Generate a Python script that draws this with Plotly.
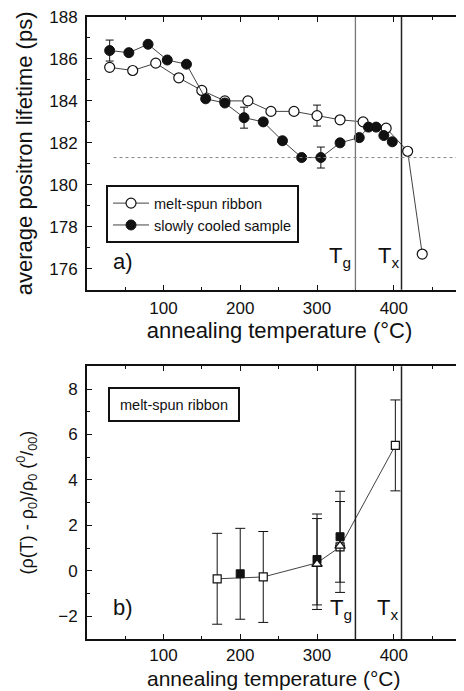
import plotly.graph_objects as go

# ---------------- data: panel a ----------------
T_ms = [30, 60, 90, 120, 150, 180, 210, 240, 270, 300, 330, 360, 390, 418, 437]
tau_ms = [185.6, 185.45, 185.8, 185.1, 184.5, 184.0, 184.0, 183.5, 183.5, 183.3, 183.1, 183.0, 182.7, 181.6, 176.7]
err_ms = [0, 0, 0, 0, 0, 0, 0, 0, 0, 0.5, 0, 0, 0, 0, 0]

T_sc = [30, 55, 80, 105, 130, 155, 180, 205, 230, 255, 280, 305, 330, 355, 367, 377, 387, 398]
tau_sc = [186.4, 186.3, 186.7, 185.95, 185.75, 184.1, 183.9, 183.2, 183.0, 182.1, 181.3, 181.3, 182.0, 182.25, 182.75, 182.75, 182.35, 182.05]
err_sc = [0.5, 0, 0, 0, 0, 0, 0, 0.5, 0, 0, 0, 0.5, 0, 0, 0, 0, 0, 0]

tau_ref = 181.3
Tg = 350
Tx = 410

# ---------------- data: panel b ----------------
T_line = [170, 230, 300, 330, 402]
rho_line = [-0.35, -0.27, 0.35, 1.05, 5.52]

T_open = [170, 230, 330, 402]
rho_open = [-0.35, -0.27, 1.05, 5.52]
err_open = [2, 2, 2, 2]

T_fill = [200, 300, 330]
rho_fill = [-0.13, 0.5, 1.5]
err_fill = [2, 2, 2]

T_tri = [300, 330]
rho_tri = [0.3, 1.1]
err_tri = [2, 0]

x_ticks = [100, 200, 300, 400]
x_title = "annealing temperature (°C)"

FONT = "Liberation Sans, Arial, Helvetica, sans-serif"
BLACK = "#111111"

fig = go.Figure()

# panel a traces
fig.add_trace(go.Scatter(
    x=T_ms, y=tau_ms, mode="lines+markers", name="melt-spun ribbon",
    line=dict(color=BLACK, width=0.8),
    marker=dict(symbol="circle", size=10, color="white", line=dict(color=BLACK, width=1.2)),
    error_y=dict(type="data", array=err_ms, color=BLACK, thickness=1, width=4, visible=True),
    xaxis="x", yaxis="y"))
fig.add_trace(go.Scatter(
    x=T_sc, y=tau_sc, mode="lines+markers", name="slowly cooled sample",
    line=dict(color=BLACK, width=0.8),
    marker=dict(symbol="circle", size=10, color=BLACK, line=dict(color=BLACK, width=1)),
    error_y=dict(type="data", array=err_sc, color=BLACK, thickness=1, width=4, visible=True),
    xaxis="x", yaxis="y"))

# panel b traces
fig.add_trace(go.Scatter(
    x=T_line, y=rho_line, mode="lines", showlegend=False,
    line=dict(color=BLACK, width=0.8), xaxis="x2", yaxis="y2", hoverinfo="skip"))
fig.add_trace(go.Scatter(
    x=T_open, y=rho_open, mode="markers", showlegend=False,
    marker=dict(symbol="square", size=8, color="white", line=dict(color=BLACK, width=1.2)),
    error_y=dict(type="data", array=err_open, color=BLACK, thickness=1, width=5),
    xaxis="x2", yaxis="y2"))
fig.add_trace(go.Scatter(
    x=T_fill, y=rho_fill, mode="markers", showlegend=False,
    marker=dict(symbol="square", size=8, color=BLACK, line=dict(color=BLACK, width=1)),
    error_y=dict(type="data", array=err_fill, color=BLACK, thickness=1, width=5),
    xaxis="x2", yaxis="y2"))
fig.add_trace(go.Scatter(
    x=T_tri, y=rho_tri, mode="markers", showlegend=False,
    marker=dict(symbol="triangle-up", size=9, color="white", line=dict(color=BLACK, width=1.3)),
    error_y=dict(type="data", array=err_tri, color=BLACK, thickness=1, width=5),
    xaxis="x2", yaxis="y2"))

# dummy traces for right-side tick axes
fig.add_trace(go.Scatter(x=[None], y=[None], xaxis="x", yaxis="y3", showlegend=False, hoverinfo="skip"))
fig.add_trace(go.Scatter(x=[None], y=[None], xaxis="x2", yaxis="y4", showlegend=False, hoverinfo="skip"))

# The page body adds an 8px margin; the plot is laid out so the visible
# region (cropped at the window edge) matches the reference.
XR = [0.5, 501.8]
top_dom = [0.5616, 1.0]
bot_dom = [0.0, 0.4384]
RIGHT_POS = 0.979

def xax(anchor, title, standoff):
    return dict(
        range=XR, domain=[0, 1], anchor=anchor,
        showline=True, linecolor=BLACK, linewidth=2, mirror="ticks",
        ticks="inside", ticklen=5, tickwidth=1.2, tickcolor=BLACK,
        tickvals=x_ticks, ticktext=[str(v) for v in x_ticks],
        minor=dict(dtick=50, tick0=0, ticks="inside", ticklen=3, tickwidth=1, tickcolor=BLACK),
        showgrid=False, zeroline=False,
        tickfont=dict(size=17, color=BLACK, family=FONT),
        ticklabelstandoff=standoff, ticklabeloverflow="allow",
        title=dict(text=title, font=dict(size=22, color=BLACK, family=FONT), standoff=3),
    )

def yright(over, rng, t0):
    return dict(
        overlaying=over, side="right", anchor="free", position=RIGHT_POS, range=rng,
        showline=False, ticks="inside", ticklen=4, tickwidth=1, tickcolor=BLACK,
        dtick=2, tick0=t0, showticklabels=False, showgrid=False, zeroline=False,
    )

fig.update_layout(
    width=464, height=691,
    margin=dict(l=79, r=0, t=6, b=60),
    paper_bgcolor="white", plot_bgcolor="white",
    font=dict(family=FONT, color=BLACK),
    xaxis=xax("y", x_title, 2),
    xaxis2=xax("y2", "", 0),
    yaxis=dict(
        domain=top_dom, anchor="x", range=[175, 188],
        showline=True, linecolor=BLACK, linewidth=2,
        ticks="inside", ticklen=5, tickwidth=1.2, tickcolor=BLACK,
        dtick=2, tick0=176,
        minor=dict(dtick=1, ticks="inside", ticklen=3, tickwidth=1, tickcolor=BLACK),
        showgrid=False, zeroline=False,
        tickfont=dict(size=17, color=BLACK, family=FONT), ticklabelstandoff=4,
        ticklabeloverflow="allow",
        title=dict(text="average positron lifetime (ps)", font=dict(size=22, color=BLACK, family=FONT), standoff=11),
    ),
    yaxis2=dict(
        domain=bot_dom, anchor="x2", range=[-3, 9],
        showline=True, linecolor=BLACK, linewidth=2,
        ticks="inside", ticklen=5, tickwidth=1.2, tickcolor=BLACK,
        dtick=2, tick0=0,
        minor=dict(dtick=1, ticks="inside", ticklen=3, tickwidth=1, tickcolor=BLACK),
        showgrid=False, zeroline=False,
        tickfont=dict(size=17, color=BLACK, family=FONT), ticklabelstandoff=4,
        ticklabeloverflow="allow",
        title=dict(text="(ρ(T) - ρ<sub>0</sub>)/ρ<sub>0</sub> (<sup>0</sup>/<sub>00</sub>)",
                   font=dict(size=18, color=BLACK, family=FONT), standoff=20),
    ),
    yaxis3=yright("y", [175, 188], 176),
    yaxis4=yright("y2", [-3, 9], 0),
    legend=dict(
        x=0.0494, y=0.7296, xanchor="left", yanchor="top",
        bordercolor=BLACK, borderwidth=2, bgcolor="white",
        font=dict(size=14.5, color=BLACK, family=FONT),
        tracegroupgap=0, itemsizing="trace", itemwidth=36,
    ),
    showlegend=True,
)

shapes = []
# panel a vertical lines and reference level
shapes.append(dict(type="line", xref="x", yref="y domain", x0=Tg, x1=Tg, y0=0, y1=1,
                   line=dict(color="#777777", width=1.3)))
shapes.append(dict(type="line", xref="x", yref="y domain", x0=Tx, x1=Tx, y0=0, y1=1,
                   line=dict(color="#222222", width=1.5)))
shapes.append(dict(type="line", xref="x", yref="y", x0=35, x1=XR[1], y0=tau_ref, y1=tau_ref,
                   line=dict(color="#888888", width=1, dash="dot")))
# panel b vertical lines
shapes.append(dict(type="line", xref="x2", yref="y2 domain", x0=Tg, x1=Tg, y0=0, y1=1,
                   line=dict(color="#222222", width=1.5)))
shapes.append(dict(type="line", xref="x2", yref="y2 domain", x0=Tx, x1=Tx, y0=0, y1=1,
                   line=dict(color="#222222", width=1.5)))
fig.update_layout(shapes=shapes)

ann = []
ann.append(dict(text="a)", x=48, y=176.35, xref="x", yref="y", showarrow=False,
                font=dict(size=22, color=BLACK, family=FONT), xanchor="center", yanchor="middle"))
ann.append(dict(text="T<sub>g</sub>", x=330, y=176.55, xref="x", yref="y", showarrow=False,
                font=dict(size=22, color=BLACK, family=FONT), xanchor="center", yanchor="middle"))
ann.append(dict(text="T<sub>x</sub>", x=393, y=176.55, xref="x", yref="y", showarrow=False,
                font=dict(size=22, color=BLACK, family=FONT), xanchor="center", yanchor="middle"))
ann.append(dict(text="b)", x=47, y=-1.6, xref="x2", yref="y2", showarrow=False,
                font=dict(size=22, color=BLACK, family=FONT), xanchor="center", yanchor="middle"))
ann.append(dict(text="T<sub>g</sub>", x=331, y=-1.68, xref="x2", yref="y2", showarrow=False,
                font=dict(size=22, color=BLACK, family=FONT), xanchor="center", yanchor="middle"))
ann.append(dict(text="T<sub>x</sub>", x=392, y=-1.68, xref="x2", yref="y2", showarrow=False,
                font=dict(size=22, color=BLACK, family=FONT), xanchor="center", yanchor="middle"))
ann.append(dict(text="melt-spun ribbon", x=114, y=7.32, xref="x2", yref="y2", showarrow=False,
                font=dict(size=14.5, color=BLACK, family=FONT), xanchor="center", yanchor="middle",
                bordercolor=BLACK, borderwidth=2, borderpad=0, bgcolor="white", width=128, height=31))
# x-axis title of panel b, placed just above the window edge
ann.append(dict(text=x_title, x=0.4865, y=-0.0632, xref="paper", yref="paper", showarrow=False,
                font=dict(size=21, color=BLACK, family=FONT), xanchor="center", yanchor="middle"))
fig.update_layout(annotations=ann)

fig.write_html("out.html")
